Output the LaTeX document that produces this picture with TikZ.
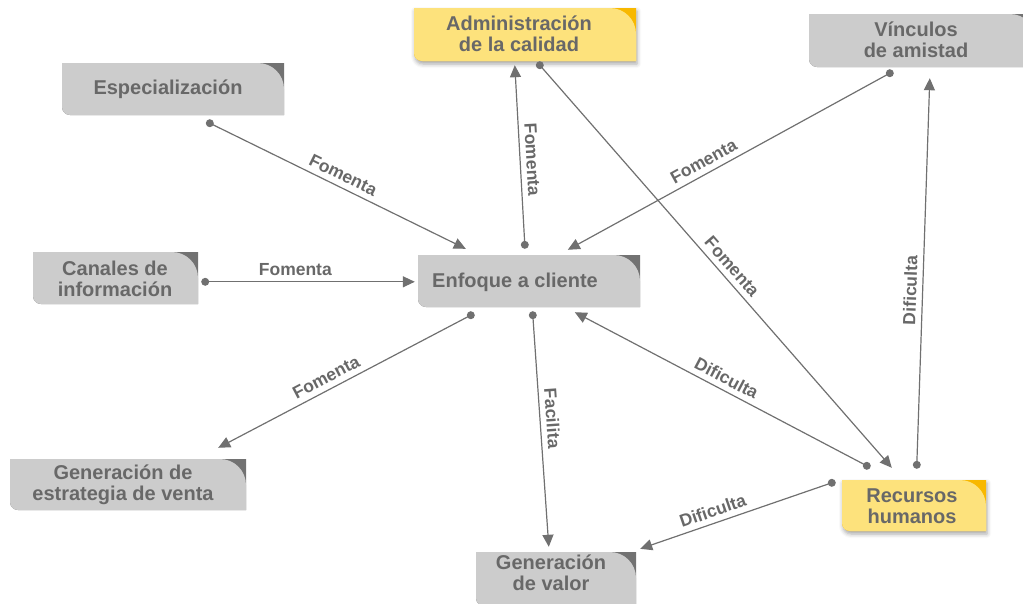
\documentclass[tikz,border=0pt]{standalone}
\usepackage{fontspec}
\setmainfont{Liberation Sans}
\usetikzlibrary{arrows.meta,calc,fit,shadows.blur}

\definecolor{txtgray}{HTML}{686868}
\definecolor{linegray}{HTML}{707070}
\definecolor{gfill}{HTML}{CCCCCC}
\definecolor{gcorner}{HTML}{727272}
\definecolor{yfill}{HTML}{FDE27C}
\definecolor{ycorner}{HTML}{F8B800}

\tikzset{
  boxtext/.style={text=txtgray, font=\bfseries\fontsize{20}{21}\selectfont, align=center, inner sep=0pt},
  linklabel/.style={text=txtgray, font=\bfseries\fontsize{17.5}{18}\selectfont, sloped, inner sep=5.5pt},
  link/.style={draw=linegray, line width=1.2pt, -{Triangle[length=12pt,width=11pt]}},
  gshade/.style={},
  yshade/.style={blur shadow={shadow xshift=1pt, shadow yshift=-3pt, shadow opacity=35, shadow blur radius=4pt}},
}

% concept box: name, x1, y1, x2, y2, palette (g or y)
\newcommand\conceptbox[6]{%
  \fill[#6corner,#6shade] (#2,#3) -- (#4,#3) -- (#4,#5) -- ({#2+8},#5)
      arc[start angle=90,end angle=180,radius=8] -- cycle;
  \fill[#6fill] (#2,#3) -- ({#4-26},#3) arc[start angle=-90,end angle=0,radius=26]
      -- (#4,#5) -- ({#2+8},#5) arc[start angle=90,end angle=180,radius=8] -- cycle;
  \node[fit={(#2,#3) (#4,#5)}, inner sep=0pt] (#1) {};
}

% start dot of a connector
\newcommand\startdot[1]{\fill[linegray] (#1) circle (4pt);}

\begin{document}
\begin{tikzpicture}[x=1pt,y=-1pt]
\useasboundingbox (0,0) rectangle (1023,603);

% boxes
\conceptbox{adm}{414}{8}{636}{61}{y}
\conceptbox{esp}{62}{63}{284}{115}{g}
\conceptbox{vin}{809}{14}{1036}{67}{g}
\conceptbox{can}{33}{252}{198}{304}{g}
\conceptbox{enf}{418}{255}{640}{307}{g}
\conceptbox{est}{10}{459}{246}{510}{g}
\conceptbox{val}{476}{552}{636}{606}{g}
\conceptbox{rec}{842}{480}{986}{531}{y}

% titles
\node[boxtext] (adm-t) at (519,34) {Administración\\de la calidad};
\node[boxtext] (esp-t) at (168,89) {Especialización};
\node[boxtext] (vin-t) at (916,40) {Vínculos\\de amistad};
\node[boxtext] (can-t) at (115,279) {Canales de\\información};
\node[boxtext] (enf-t) at (515,282) {Enfoque a cliente};
\node[boxtext] (est-t) at (123,485) {Generación de\\estrategia de venta};
\node[boxtext] (val-t) at (551,573) {Generación\\de valor};
\node[boxtext] (rec-t) at (912,506) {Recursos\\humanos};

% connector end points
\coordinate (s1) at ($(esp.south west)+(148,8)$);
\coordinate (e1) at ($(enf.north west)+(48,-6)$);
\coordinate (s2) at ($(enf.north west)+(107,-10)$);
\coordinate (e2) at ($(adm.south west)+(101,4)$);
\coordinate (s3) at ($(vin.south west)+(81,6)$);
\coordinate (e3) at ($(enf.north west)+(150,-5)$);
\coordinate (s4) at ($(adm.south west)+(126,4)$);
\coordinate (e4) at ($(rec.north west)+(50,-12)$);
\coordinate (s5) at ($(rec.north west)+(75,-15)$);
\coordinate (e5) at ($(vin.south west)+(121,11)$);
\coordinate (s6) at ($(can.north east)+(7,30)$);
\coordinate (e6) at ($(enf.north west)+(-3,27)$);
\coordinate (s7) at ($(enf.south west)+(53,8)$);
\coordinate (e7) at ($(est.north east)+(-28,-11)$);
\coordinate (s8) at ($(enf.south west)+(115,8)$);
\coordinate (e8) at ($(val.north west)+(73,-5)$);
\coordinate (s9) at ($(rec.north west)+(25,-14)$);
\coordinate (e9) at ($(enf.south west)+(157,5)$);
\coordinate (s10) at ($(rec.north west)+(-10,3)$);
\coordinate (e10) at ($(val.north east)+(4,-3)$);

% connectors
\draw[link] (s1) -- node[linklabel, above, pos=0.5] {Fomenta} (e1);
\draw[link] (s2) -- node[linklabel, above, pos=0.47] {Fomenta} (e2);
\draw[link] (s3) -- node[linklabel, above, pos=0.56] {Fomenta} (e3);
\draw[link] (s4) -- node[linklabel, above, pos=0.52] {Fomenta} (e4);
\draw[link] (s5) -- node[linklabel, above, pos=0.45] {Dificulta} (e5);
\draw[link] (s6) -- node[linklabel, above, pos=0.43] {Fomenta} (e6);
\draw[link] (s7) -- node[linklabel, above, pos=0.55] {Fomenta} (e7);
\draw[link] (s8) -- node[linklabel, above, pos=0.45] {Facilita} (e8);
\draw[link] (s9) -- node[linklabel, above, pos=0.5] {Dificulta} (e9);
\draw[link] (s10) -- node[linklabel, above, pos=0.6] {Dificulta} (e10);

\foreach \p in {s1,s2,s3,s4,s5,s6,s7,s8,s9,s10} {\startdot{\p}}
\end{tikzpicture}
\end{document}
